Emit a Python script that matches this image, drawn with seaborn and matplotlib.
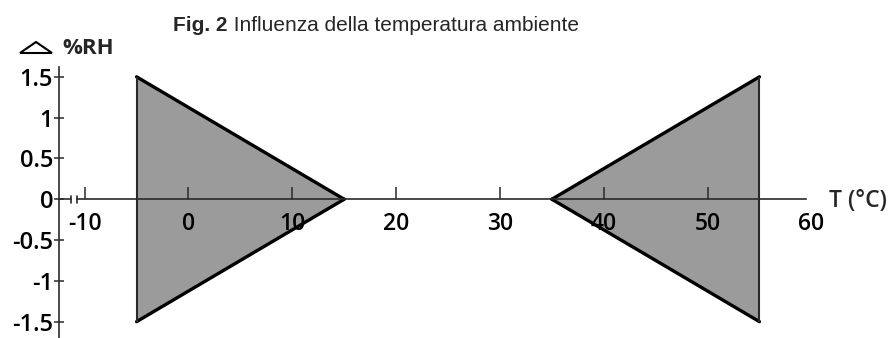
import matplotlib.pyplot as plt
import pandas as pd
import seaborn as sns
from matplotlib.patches import Polygon

# temperature (°C) and %RH deviation along the two shaded bands
cold_temp = [-5, 15]
cold_upper = [1.5, 0]
cold_lower = [-1.5, 0]
hot_temp = [35, 55]
hot_upper = [0, 1.5]
hot_lower = [0, -1.5]

x_ticks = [-10, 0, 10, 20, 30, 40, 50, 60]
y_ticks = [-1.5, -1, -0.5, 0, 0.5, 1, 1.5]
y_labels = ['-1.5', '-1', '-0.5', '0', '0.5', '1', '1.5']


def main():
    sns.set_theme(style="white")
    plt.rcParams['font.family'] = ['Open Sans', 'DejaVu Sans']
    plt.rcParams['axes.unicode_minus'] = False

    W, H = 889, 338
    fig = plt.figure(figsize=(W / 100, H / 100), dpi=100)
    ax = fig.add_axes([59 / W, 0, (863.3 - 59) / W, 271 / H])
    x0 = -12.47
    ax.set_xlim(x0, 65)
    ax.set_ylim(-1.70, 1.62)
    ax.patch.set_alpha(0)
    ax.set_axisbelow(False)

    axis_col = '#2a2a2a'
    fill = '#9b9b9b'

    bands = [(cold_temp, cold_lower, cold_upper, cold_temp[0], 0),
             (hot_temp, hot_lower, hot_upper, hot_temp[-1], -1)]
    for t, lo, up, xv, iv in bands:
        ax.fill_between(t, lo, up, color=fill, lw=0, zorder=1)
        sns.lineplot(x=t, y=up, color='black', lw=2.4, ax=ax, zorder=3)
        sns.lineplot(x=t, y=lo, color='black', lw=2.4, ax=ax, zorder=3)
        ax.vlines(xv, lo[iv], up[iv], color=axis_col, lw=1.5, zorder=3)

    # axes
    for s in ['top', 'right']:
        ax.spines[s].set_visible(False)
    ax.spines['left'].set_color(axis_col)
    ax.spines['left'].set_linewidth(1.2)
    ax.spines['bottom'].set_position(('data', 0))
    ax.spines['bottom'].set_bounds(-10.77, 59.45)
    ax.spines['bottom'].set_color(axis_col)
    ax.spines['bottom'].set_linewidth(1.2)
    ax.spines['bottom'].set_zorder(4)

    # axis break near the origin
    ax.plot([x0, -11.35], [0, 0], color=axis_col, lw=1.2, clip_on=False)
    for xb in [-11.35, -10.77]:
        ax.plot([xb, xb], [-0.04, 0.04], color=axis_col, lw=1.2, clip_on=False)

    ax.set_xticks(x_ticks)
    ax.set_xticklabels([str(v) for v in x_ticks], weight='semibold')
    ax.set_yticks(y_ticks)
    ax.set_yticklabels(y_labels, weight='semibold')
    ax.tick_params(axis='x', bottom=True, direction='in', length=8.5,
                   width=1.1, pad=9, labelsize=16.5, color=axis_col,
                   labelcolor='black')
    ax.tick_params(axis='y', left=True, direction='inout', length=7.5,
                   width=1.1, pad=0.5, labelsize=17, color=axis_col,
                   labelcolor='black')
    ax.xaxis.get_major_ticks()[-1].tick1line.set_visible(False)
    ax.set_xlabel('')
    ax.set_ylabel('')

    ax.text(61.7, -0.1, 'T (°C)', fontsize=16.5, weight='semibold',
            va='baseline', ha='left')

    # y axis label with a delta triangle
    fig.text(62 / W, (H - 54) / H, '%RH', fontsize=16, weight='bold',
             va='baseline', ha='left')
    tri = Polygon([(20 / W, (H - 53) / H), (52 / W, (H - 53) / H),
                   (36 / W, (H - 42) / H)], closed=True, fill=False,
                  ec='black', lw=1.5, transform=fig.transFigure)
    fig.add_artist(tri)

    t1 = fig.text(173 / W, (H - 31) / H, 'Fig. 2', fontsize=15,
                  weight='bold', family='Liberation Sans', va='baseline')
    fig.canvas.draw()
    ax.annotate(' Influenza della temperatura ambiente', xy=(1, 0),
                xycoords=t1, va='bottom', ha='left', fontsize=15,
                family='Liberation Sans')

    fig.savefig('out.png', dpi=100)
    plt.close(fig)


if __name__ == '__main__':
    main()
